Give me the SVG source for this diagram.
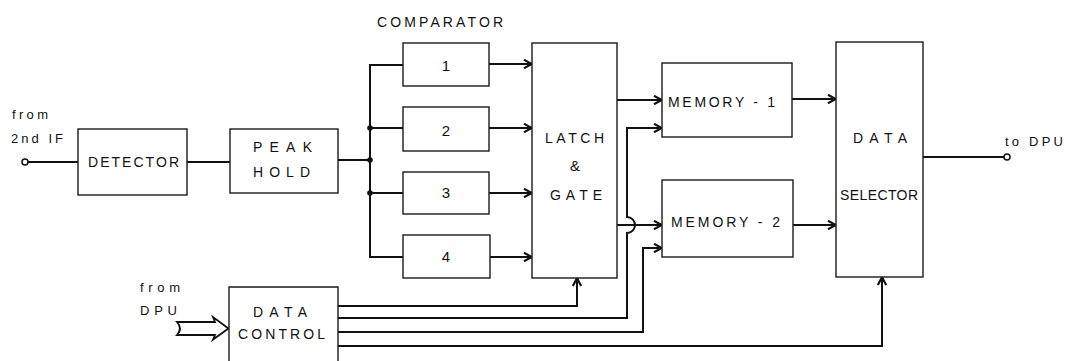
<svg xmlns="http://www.w3.org/2000/svg" width="1066" height="361" viewBox="0 0 1066 361">
<style>
.box{fill:#fff;stroke:#1a1a1a;stroke-width:1.4}
.ln{fill:none;stroke:#111;stroke-width:2;stroke-linejoin:miter}
.arr{marker-end:url(#ah)}
text{font-family:"Liberation Sans",Arial,sans-serif;font-size:14px;fill:#111}
.sm{font-size:13px}
.num{font-size:15px}
.dot{fill:#111}
.term{fill:#fff;stroke:#111;stroke-width:1.5}
</style>
<defs>
<marker id="ah" viewBox="0 0 10 10" refX="9.5" refY="5" markerWidth="10" markerHeight="10" markerUnits="userSpaceOnUse" orient="auto">
<path d="M1.5,0.8 L9.3,5 L1.5,9.2" fill="none" stroke="#111" stroke-width="2.2"/>
</marker>
</defs>
<rect width="1066" height="361" fill="#fff"/>

<g id="connectors">
<line class="ln" x1="28" y1="162" x2="78" y2="162"/>
<line class="ln" x1="187" y1="162" x2="230" y2="162"/>
<line class="ln" x1="338" y1="160" x2="370" y2="160"/>
<path class="ln" d="M403,65 H370 V257 H403"/>
<line class="ln" x1="370" y1="128" x2="403" y2="128"/>
<line class="ln" x1="370" y1="193" x2="403" y2="193"/>
<circle class="dot" cx="370" cy="128" r="2.8"/>
<circle class="dot" cx="370" cy="160" r="2.8"/>
<circle class="dot" cx="370" cy="193" r="2.8"/>
<line class="ln arr" x1="489" y1="64" x2="532" y2="64"/>
<line class="ln arr" x1="489" y1="128" x2="532" y2="128"/>
<line class="ln arr" x1="489" y1="193" x2="532" y2="193"/>
<line class="ln arr" x1="490" y1="257" x2="532" y2="257"/>
<line class="ln arr" x1="617" y1="100" x2="662" y2="100"/>
<line class="ln arr" x1="617" y1="225" x2="662" y2="225"/>
<line class="ln arr" x1="792" y1="99" x2="836" y2="99"/>
<line class="ln arr" x1="793" y1="225" x2="836" y2="225"/>
<line class="ln" x1="923" y1="157" x2="1004" y2="157"/>
<path class="ln arr" d="M338,306 H577 V278"/>
<path class="ln arr" d="M338,318 H627 V233 A8,8 0 0 0 627,217 V128 H662"/>
<path class="ln arr" d="M338,332 H643 V248 H662"/>
<path class="ln arr" d="M338,346 H882 V277"/>
<path d="M177,322 H215 L213,317 L228.5,328.5 L213,339.5 L215,335 H177 Q183,328.5 177,322 Z" fill="#fff" stroke="#111" stroke-width="1.8" stroke-linejoin="miter"/>
</g>

<g id="in-terminal">
<circle class="term" cx="25" cy="162" r="3"/>
<text class="sm" x="12" y="119" textLength="36" lengthAdjust="spacing">from</text>
<text class="sm" x="11" y="143" textLength="52" lengthAdjust="spacing">2nd IF</text>
</g>

<g id="out-terminal">
<circle class="term" cx="1007" cy="157" r="3"/>
<text class="sm" x="1005" y="146" textLength="58" lengthAdjust="spacing">to DPU</text>
</g>

<g id="detector">
<rect class="box" x="78" y="129" width="109" height="66"/>
<text x="88" y="167" textLength="91" lengthAdjust="spacing">DETECTOR</text>
</g>

<g id="peak-hold">
<rect class="box" x="230" y="129" width="108" height="64"/>
<text x="253" y="152" textLength="59" lengthAdjust="spacing">PEAK</text>
<text x="253" y="177" textLength="57" lengthAdjust="spacing">HOLD</text>
</g>

<g id="comparator-label">
<text x="377" y="27" textLength="126" lengthAdjust="spacing">COMPARATOR</text>
</g>

<g id="comp1">
<rect class="box" x="403" y="43" width="86" height="43"/>
<text class="num" x="446" y="71" text-anchor="middle">1</text>
</g>
<g id="comp2">
<rect class="box" x="403" y="107" width="86" height="44"/>
<text class="num" x="446" y="136" text-anchor="middle">2</text>
</g>
<g id="comp3">
<rect class="box" x="403" y="172" width="86" height="42"/>
<text class="num" x="446" y="198" text-anchor="middle">3</text>
</g>
<g id="comp4">
<rect class="box" x="403" y="235" width="87" height="43"/>
<text class="num" x="446" y="262" text-anchor="middle">4</text>
</g>

<g id="latch-gate">
<rect class="box" x="532" y="43" width="85" height="235"/>
<text x="545" y="143" textLength="59" lengthAdjust="spacing">LATCH</text>
<text class="num" x="575" y="171" text-anchor="middle">&amp;</text>
<text x="550" y="200" textLength="52" lengthAdjust="spacing">GATE</text>
</g>

<g id="memory1">
<rect class="box" x="662" y="63" width="130" height="74"/>
<text x="668" y="107" textLength="107" lengthAdjust="spacing">MEMORY - 1</text>
</g>

<g id="memory2">
<rect class="box" x="662" y="180" width="131" height="77"/>
<text x="671" y="227" textLength="109" lengthAdjust="spacing">MEMORY - 2</text>
</g>

<g id="data-selector">
<rect class="box" x="836" y="42" width="87" height="235"/>
<text x="853" y="143" textLength="54" lengthAdjust="spacing">DATA</text>
<text x="840" y="200" textLength="78" lengthAdjust="spacing">SELECTOR</text>
</g>

<g id="data-control">
<path class="box" d="M229,363 V287 H338 V363"/>
<text x="253" y="317" textLength="54" lengthAdjust="spacing">DATA</text>
<text x="238" y="339" textLength="87" lengthAdjust="spacing">CONTROL</text>
<text class="sm" x="140" y="292" textLength="40" lengthAdjust="spacing">from</text>
<text class="sm" x="140" y="315" textLength="37" lengthAdjust="spacing">DPU</text>
</g>
</svg>
